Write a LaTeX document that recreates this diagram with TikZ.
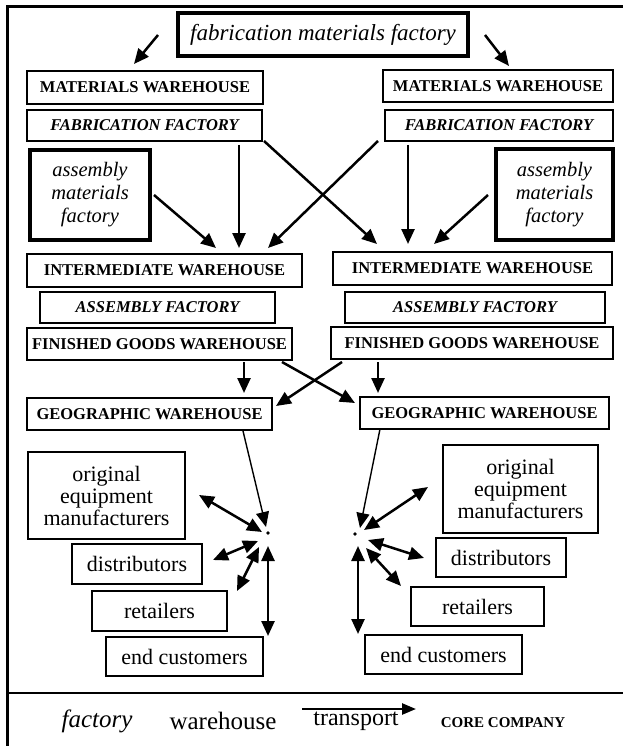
\documentclass[tikz,border=0pt]{standalone}
\usepackage{fontspec}
\setmainfont{Liberation Serif}
\usetikzlibrary{arrows.meta}
\begin{document}
\begin{tikzpicture}[x=1pt,y=-1pt,
  box/.style={draw,line width=2pt,inner sep=0pt,align=center},
  tbox/.style={draw,line width=3.6pt,inner sep=0pt,align=center},
  caps/.style={font=\fontsize{16.5}{18}\selectfont\bfseries},
  icaps/.style={font=\fontsize{16.5}{18}\selectfont\bfseries\itshape},
  ital/.style={font=\fontsize{20.5}{23}\selectfont\itshape},
  reg/.style={font=\fontsize{22}{22}\selectfont},
  arr/.style={line width=2.5pt,-{Triangle[length=15pt,width=13pt]}},
  darr/.style={line width=2.5pt,{Triangle[length=15pt,width=13pt]}-{Triangle[length=15pt,width=13pt]}},
  hubarr/.style={line width=1.4pt,-{Triangle[length=15pt,width=13pt]}}
]
\useasboundingbox (0,0) rectangle (623,746);
% frame
\draw[line width=3pt] (7,746) -- (7,7) -- (623,7);
\draw[line width=1.5pt] (7,693) -- (623,693);

% top
\node[tbox,minimum width=290,minimum height=43,font=\fontsize{23}{26}\selectfont\itshape] (top) at (323,34.5) {fabrication materials factory};
\node[box,caps,minimum width=236,minimum height=33] (mwl) at (145,87.5) {MATERIALS WAREHOUSE};
\node[box,caps,minimum width=230,minimum height=32] (mwr) at (498,86) {MATERIALS WAREHOUSE};
\node[box,icaps,minimum width=235,minimum height=31] (ffl) at (144.5,125.5) {FABRICATION FACTORY};
\node[box,icaps,minimum width=228,minimum height=31] (ffr) at (499,125.5) {FABRICATION FACTORY};
\node[tbox,ital,minimum width=120,minimum height=90] (amfl) at (90,195) {assembly\\materials\\factory};
\node[tbox,ital,minimum width=117,minimum height=91] (amfr) at (554.5,194.5) {assembly\\materials\\factory};
\node[box,caps,minimum width=275,minimum height=33] (iwl) at (164.5,270.5) {INTERMEDIATE WAREHOUSE};
\node[box,caps,minimum width=279,minimum height=33] (iwr) at (472.5,268.5) {INTERMEDIATE WAREHOUSE};
\node[box,icaps,minimum width=235,minimum height=31] (afl) at (157.5,307.5) {ASSEMBLY FACTORY};
\node[box,icaps,minimum width=260,minimum height=31] (afr) at (475,307.5) {ASSEMBLY FACTORY};
\node[box,caps,minimum width=265,minimum height=32] (fgl) at (159.5,344) {FINISHED GOODS WAREHOUSE};
\node[box,caps,minimum width=282,minimum height=32] (fgr) at (472,343) {FINISHED GOODS WAREHOUSE};
\node[box,caps,minimum width=245,minimum height=32] (gwl) at (149.5,414) {GEOGRAPHIC WAREHOUSE};
\node[box,caps,minimum width=249,minimum height=32] (gwr) at (484.5,413) {GEOGRAPHIC WAREHOUSE};

\node[box,reg,minimum width=157,minimum height=87] (oeml) at (106.5,495.5) {original\\equipment\\manufacturers};
\node[box,reg,minimum width=130,minimum height=40] (distl) at (137,564) {distributors};
\node[box,reg,minimum width=135,minimum height=40] (retl) at (159.5,611) {retailers};
\node[box,reg,minimum width=157,minimum height=39] (endl) at (184.5,656.5) {end customers};
\node[box,reg,minimum width=155,minimum height=88] (oemr) at (520.5,489) {original\\equipment\\manufacturers};
\node[box,reg,minimum width=130,minimum height=39] (distr) at (501,557.5) {distributors};
\node[box,reg,minimum width=133,minimum height=39] (retr) at (477.5,606.5) {retailers};
\node[box,reg,minimum width=157,minimum height=39] (endr) at (443.5,654.5) {end customers};

% coordinates
\coordinate (t1a) at (158,35);  \coordinate (t1b) at (134,64);
\coordinate (t2a) at (485,35);  \coordinate (t2b) at (509,66);
\coordinate (m1a) at (154,195); \coordinate (m1b) at (216,248);
\coordinate (m2a) at (239,145); \coordinate (m2b) at (239,248);
\coordinate (m3a) at (378,141); \coordinate (m3b) at (268,248);
\coordinate (m4a) at (264,141); \coordinate (m4b) at (377,244);
\coordinate (m5a) at (408,145); \coordinate (m5b) at (408,244);
\coordinate (m6a) at (488,195); \coordinate (m6b) at (434,244);
\coordinate (g1a) at (244,362); \coordinate (g1b) at (244,393);
\coordinate (g2a) at (378,362); \coordinate (g2b) at (378,393);
\coordinate (g3a) at (282,362); \coordinate (g3b) at (355,403);
\coordinate (g4a) at (342,362); \coordinate (g4b) at (276,406);
% left hub
\coordinate (hubl) at (268,533);
\coordinate (hl0a) at (243,431); \coordinate (hl0b) at (266,527);
\coordinate (hl1a) at (199,495); \coordinate (hl1b) at (262,532);
\coordinate (hl2a) at (213,560); \coordinate (hl2b) at (258,541);
\coordinate (hl3a) at (237,591); \coordinate (hl3b) at (259,547);
\coordinate (hl4a) at (268,636); \coordinate (hl4b) at (268,546);
% right hub
\coordinate (hubr) at (355,534);
\coordinate (hr0a) at (380,429); \coordinate (hr0b) at (360,528);
\coordinate (hr1a) at (428,487); \coordinate (hr1b) at (364,530);
\coordinate (hr2a) at (424,558); \coordinate (hr2b) at (368,540);
\coordinate (hr3a) at (401,586); \coordinate (hr3b) at (366,548);
\coordinate (hr4a) at (358,634); \coordinate (hr4b) at (358,546);

\draw[arr] (t1a) -- (t1b);
\draw[arr] (t2a) -- (t2b);
\draw[arr] (m1a) -- (m1b);
\draw[arr] (m2a) -- (m2b);
\draw[arr] (m3a) -- (m3b);
\draw[arr] (m4a) -- (m4b);
\draw[arr] (m5a) -- (m5b);
\draw[arr] (m6a) -- (m6b);
\draw[arr] (g1a) -- (g1b);
\draw[arr] (g2a) -- (g2b);
\draw[arr] (g3a) -- (g3b);
\draw[arr] (g4a) -- (g4b);

\fill (hubl) circle (1.8);
\draw[hubarr] (hl0a) -- (hl0b);
\draw[darr] (hl1a) -- (hl1b);
\draw[darr] (hl2a) -- (hl2b);
\draw[darr] (hl3a) -- (hl3b);
\draw[darr] (hl4a) -- (hl4b);
\fill (hubr) circle (1.8);
\draw[hubarr] (hr0a) -- (hr0b);
\draw[darr] (hr1a) -- (hr1b);
\draw[darr] (hr2a) -- (hr2b);
\draw[darr] (hr3a) -- (hr3b);
\draw[darr] (hr4a) -- (hr4b);

% legend
\node[font=\fontsize{25}{28}\selectfont\itshape] (lf) at (97,721) {factory};
\node[font=\fontsize{25}{28}\selectfont] (lw) at (223,721) {warehouse};
\node[font=\fontsize{24}{28}\selectfont] (lt) at (356,721) {transport};
\coordinate (la) at (302,709); \coordinate (lb) at (416,709);
\draw[line width=2.5pt,-{Triangle[length=14pt,width=11pt]}] (la) -- (lb);
\node[font=\fontsize{15}{18}\selectfont\bfseries] (lc) at (503,723) {CORE COMPANY};
\end{tikzpicture}
\end{document}
